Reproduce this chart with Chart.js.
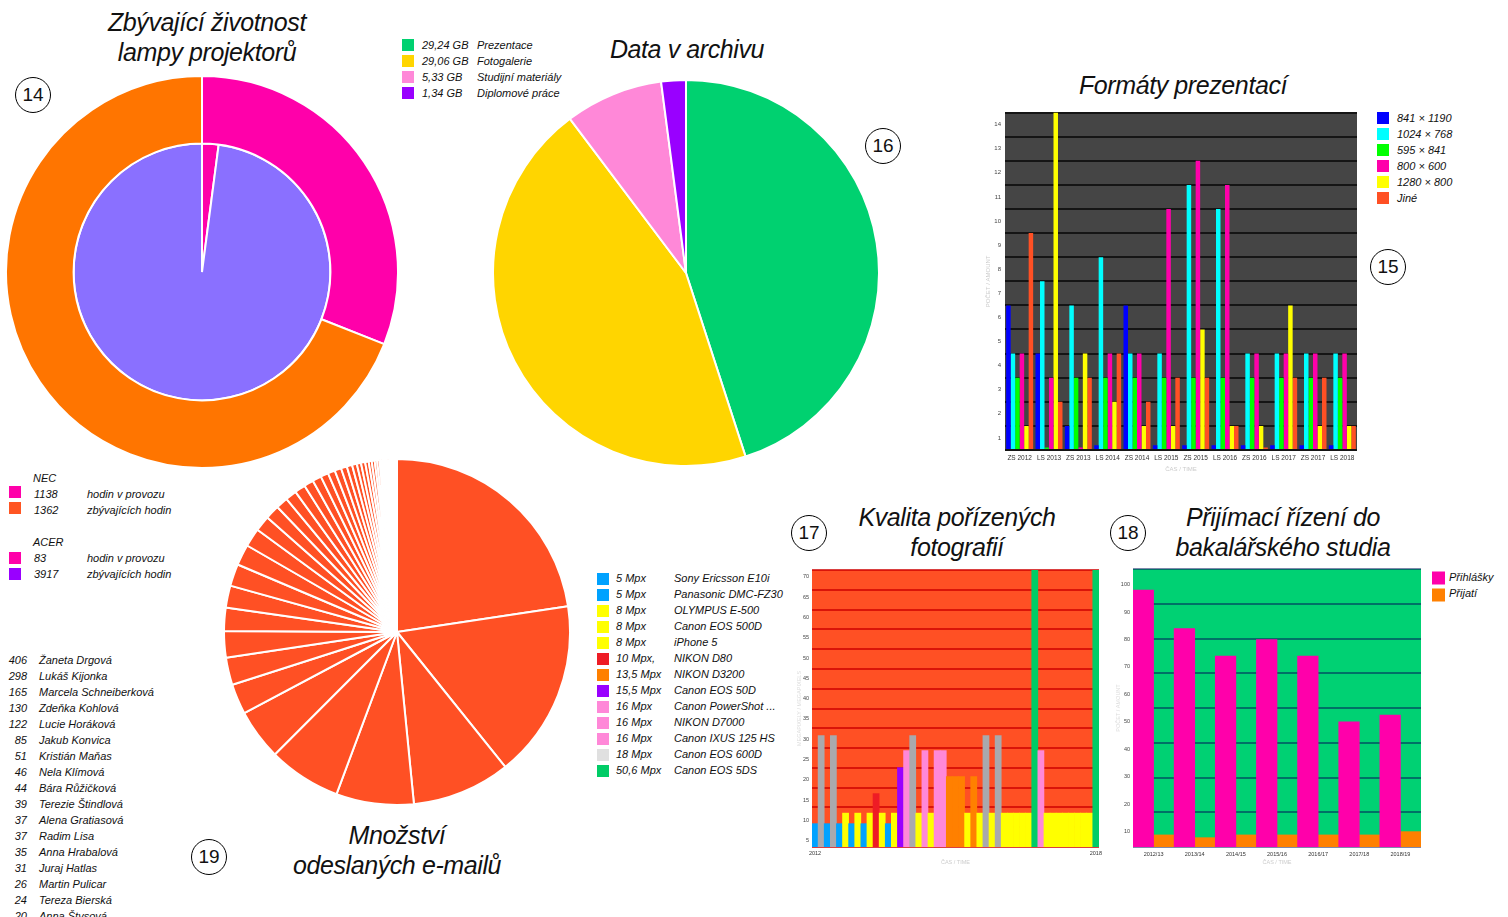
<!DOCTYPE html>
<html>
<head>
<meta charset="utf-8">
<script src="https://cdn.jsdelivr.net/npm/chart.js@4.4.1/dist/chart.umd.min.js"></script>
<style>
body { margin: 0; width: 1508px; height: 917px; overflow: hidden; background: #fff; font-family: 'Liberation Sans', Arial, sans-serif; color: #111; }
.box { position: absolute; }
.title { position: absolute; transform: translate(-50%, -50%); white-space: nowrap; font-style: italic; font-size: 25px; line-height: 30px; text-align: center; letter-spacing: -0.4px; }
.circ { position: absolute; width: 34px; height: 34px; border: 1.5px solid #000; border-radius: 50%; transform: translate(-50%, -50%); font-size: 19px; line-height: 34px; text-align: center; }
.txt { position: absolute; font-style: italic; font-size: 11px; white-space: nowrap; transform: translateY(-50%); }
.sq { position: absolute; width: 12px; height: 12px; transform: translateY(-50%); }
</style>
</head>
<body>
<div id="page"></div>
<script>
// 14 - lamp life
let necLegend = [['1138', 'hodin v provozu'], ['1362', 'zbývajících hodin']];
let acerLegend = [['83', 'hodin v provozu'], ['3917', 'zbývajících hodin']];
let necShare = [31, 69];          // outer ring, as drawn
let acerHours = [83, 3917];       // inner pie

// 16 - archive
let archiveLabels = ['Prezentace', 'Fotogalerie', 'Studijní materiály', 'Diplomové práce'];
let archiveGB = [29.24, 29.06, 5.33, 1.34];
let archiveText = ['29,24 GB', '29,06 GB', '5,33 GB', '1,34 GB'];

// 15 - presentation formats
let semesters = ['ZS 2012', 'LS 2013', 'ZS 2013', 'LS 2014', 'ZS 2014', 'LS 2015', 'ZS 2015', 'LS 2016', 'ZS 2016', 'LS 2017', 'ZS 2017', 'LS 2018'];
let formatNames = ['841 × 1190', '1024 × 768', '595 × 841', '800 × 600', '1280 × 800', 'Jiné'];
let f841x1190 = [6, 4, 1, 0.2, 6, 0.2, 0.2, 0.2, 0.2, 0.2, 0.2, 0.2];
let f1024x768 = [4, 7, 6, 8, 4, 4, 11, 10, 4, 4, 4, 4];
let f595x841 = [3, 0.1, 3, 3, 3, 3, 3, 3, 3, 3, 3, 3];
let f800x600 = [4, 3, 0.1, 4, 4, 10, 12, 11, 4, 4, 4, 4];
let f1280x800 = [1, 14, 4, 2, 1, 1, 5, 1, 1, 6, 1, 1];
let fOther = [9, 2, 3, 4, 2, 3, 3, 1, 0.1, 3, 3, 1];

// 17 - photo quality
let cameraMpx = ['5 Mpx', '5 Mpx', '8 Mpx', '8 Mpx', '8 Mpx', '10 Mpx,', '13,5 Mpx', '15,5 Mpx', '16 Mpx', '16 Mpx', '16 Mpx', '18 Mpx', '50,6 Mpx'];
let cameraNames = ['Sony Ericsson E10i', 'Panasonic DMC-FZ30', 'OLYMPUS E-500', 'Canon EOS 500D', 'iPhone 5', 'NIKON D80', 'NIKON D3200', 'Canon EOS 50D', 'Canon PowerShot ...', 'NIKON D7000', 'Canon IXUS 125 HS', 'Canon EOS 600D', 'Canon EOS 5DS'];
let photoMpx = [5, 18, 5, 18, 5, 8, 5, 8, 5, 8, 10, 8, 5, 8, 15.5, 16, 18, 8, 16, 8, 16, 16, 13.5, 13.5, 13.5, 8, 13.5, 8, 18, 8, 18, 8, 8, 8, 8, 8, 50.6, 16, 8, 8, 8, 8, 8, 8, 8, 8, 50.6];
let photoValues = [9.2, 30.9, 9.2, 30.9, 9.2, 11.8, 9.2, 11.8, 9.2, 11.8, 16.6, 11.8, 9.2, 11.8, 23, 27.2, 30.9, 11.8, 27.2, 11.8, 27.2, 27.2, 20.8, 20.8, 20.8, 11.8, 20.8, 11.8, 30.9, 11.8, 30.9, 11.8, 11.8, 11.8, 11.8, 11.8, 71.7, 27.2, 11.8, 11.8, 11.8, 11.8, 11.8, 11.8, 11.8, 11.8, 71.7];
let photoTicks = [5, 10, 15, 20, 25, 30, 35, 40, 45, 50, 55, 60, 65, 70];

// 18 - admissions
let years = ['2012/13', '2013/14', '2014/15', '2015/16', '2016/17', '2017/18', '2018/19'];
let applications = [98, 84, 74, 80, 74, 50, 52.5];
let admitted = [8.8, 7.8, 8.8, 8.8, 8.8, 8.8, 10];
let admissionTicks = [10, 20, 30, 40, 50, 60, 70, 80, 90, 100];

// 19 - e-mails
let senderNames = ['Žaneta Drgová', 'Lukáš Kijonka', 'Marcela Schneiberková', 'Zdeňka Kohlová', 'Lucie Horáková', 'Jakub Konvica', 'Kristián Maňas', 'Nela Klímová', 'Bára Růžičková', 'Terezie Štindlová', 'Alena Gratiasová', 'Radim Lisa', 'Anna Hrabalová', 'Juraj Hatlas', 'Martin Pulicar', 'Tereza Bierská', 'Anna Štvsová'];
let sentMails = [406, 298, 165, 130, 122, 85, 51, 46, 44, 39, 37, 37, 35, 31, 26, 24, 20];
let sentMailsRest = [19, 18, 16, 15, 13, 12, 11, 10, 9, 8, 7, 7, 6, 5, 5, 4, 4, 3, 3, 3, 2, 2, 2, 2, 2, 1, 1, 1, 1, 1, 1, 1, 1, 1, 1];

let C = {
    magenta: '#FF00AA', orange: '#FF7500', red: '#FF5024', lilac: '#8A70FF', purple: '#9900FF',
    green: '#00D170', gold: '#FFD500', pink: '#FF88D8',
    fBlue: '#0000FF', fCyan: '#00FFFF', fGreen: '#00FF00', fYellow: '#FFFF00',
    amber: '#FF8000'
};
let mpxColors = {5: '#00A2FF', 8: '#FFFF00', 10: '#EE1C25', 13.5: '#FF8000', 15.5: '#9900FF', 16: '#FF88D8', 18: '#A9A9AD', 50.6: '#00CC66'};
let mpxLegendColors = ['#00A2FF', '#00A2FF', '#FFFF00', '#FFFF00', '#FFFF00', '#EE1C25', '#FF8000', '#9900FF', '#FF88D8', '#FF88D8', '#FF88D8', '#E0E0E0', '#00CC66'];

Chart.defaults.font.family = "'Liberation Sans', Arial, sans-serif";
Chart.defaults.animation = false;
Chart.defaults.plugins.legend.display = false;
Chart.defaults.plugins.tooltip.enabled = false;

let page = document.getElementById('page');

function add(html) {
    page.insertAdjacentHTML('beforeend', html);
}
function title(x, y, text) {
    add(`<div class="title" style="left:${x}px;top:${y}px">${text}</div>`);
}
function circ(x, y, n) {
    add(`<div class="circ" style="left:${x}px;top:${y}px">${n}</div>`);
}
function txt(x, y, s, extra) {
    add(`<div class="txt" style="left:${x}px;top:${y}px;${extra || ''}">${s}</div>`);
}
function sq(x, y, color, size) {
    size = size || 12;
    add(`<div class="sq" style="left:${x}px;top:${y}px;width:${size}px;height:${size}px;background:${color}"></div>`);
}
function canvas(id, x, y, w, h) {
    add(`<div class="box" style="left:${x}px;top:${y}px;width:${w}px;height:${h}px"><canvas id="${id}" width="${w}" height="${h}"></canvas></div>`);
    return document.getElementById(id).getContext('2d');
}

let areaBg = {
    id: 'areaBg',
    beforeDraw(chart, args, opts) {
        let a = chart.chartArea;
        let ctx = chart.ctx;
        ctx.save();
        ctx.fillStyle = opts.color;
        ctx.fillRect(a.left, a.top, a.width, a.height);
        ctx.restore();
    }
};

// ---- texts
title(207, 37, 'Zbývající životnost<br>lampy projektorů');
title(687, 49, 'Data v archivu');
title(1183, 85, 'Formáty prezentací');
title(957, 532, 'Kvalita pořízených<br>fotografií');
title(1283, 532, 'Přijímací řízení do<br>bakalářského studia');
title(397, 850, 'Množství<br>odeslaných e-mailů');

circ(33, 95, 14);
circ(883, 146, 16);
circ(1388, 267, 15);
circ(809, 533, 17);
circ(1128, 533, 18);
circ(209, 857, 19);

// lamp legend
txt(33, 478, 'NEC');
let necColors = [C.magenta, '#FF5522'];
necLegend.forEach((r, i) => {
    sq(9, 492 + i * 16, necColors[i]);
    txt(34, 494 + i * 16, r[0]);
    txt(87, 494 + i * 16, r[1]);
});
txt(33, 542, 'ACER');
let acerColors = [C.magenta, C.purple];
acerLegend.forEach((r, i) => {
    sq(9, 558 + i * 16, acerColors[i]);
    txt(34, 558 + i * 16, r[0]);
    txt(87, 558 + i * 16, r[1]);
});

// archive legend
let archiveColors = [C.green, C.gold, C.pink, C.purple];
archiveLabels.forEach((l, i) => {
    sq(402, 45 + i * 16, archiveColors[i]);
    txt(422, 45 + i * 16, archiveText[i]);
    txt(477, 45 + i * 16, l);
});

// formats legend
let formatColors = [C.fBlue, C.fCyan, C.fGreen, C.magenta, C.fYellow, C.red];
formatNames.forEach((l, i) => {
    sq(1377, 118 + i * 16, formatColors[i]);
    txt(1397, 118 + i * 16, l);
});

// cameras legend
cameraNames.forEach((l, i) => {
    sq(597, 579 + i * 16, mpxLegendColors[i]);
    txt(616, 578 + i * 16, cameraMpx[i]);
    txt(674, 578 + i * 16, l);
});

// admissions legend
sq(1432, 578, C.magenta, 13);
txt(1449, 577, 'Přihlášky');
sq(1432, 595, C.amber, 13);
txt(1449, 593, 'Přijatí');

// senders list
senderNames.forEach((n, i) => {
    txt(0, 660 + i * 16, sentMails[i], 'width:27px;text-align:right');
    txt(39, 660 + i * 16, n);
});

// ---- 14 lamp life
new Chart(canvas('lampChart', 5, 75, 394, 394), {
    type: 'doughnut',
    data: {
        labels: ['hodin v provozu', 'zbývajících hodin'],
        datasets: [
            { data: necShare, backgroundColor: [C.magenta, C.orange], borderColor: '#fff', borderWidth: 2, weight: 1, hoverOffset: 0 },
            { data: acerHours, backgroundColor: [C.magenta, C.lilac], borderColor: '#fff', borderWidth: 2, weight: 1.9, hoverOffset: 0 }
        ]
    },
    options: { responsive: false, cutout: 0 }
});

// ---- 16 archive
new Chart(canvas('archiveChart', 492, 79, 388, 388), {
    type: 'pie',
    data: {
        labels: archiveLabels,
        datasets: [{ data: archiveGB, backgroundColor: archiveColors, borderColor: '#fff', borderWidth: 2, hoverOffset: 0 }]
    },
    options: { responsive: false }
});

// ---- 19 e-mails
new Chart(canvas('mailChart', 223, 458, 348, 348), {
    type: 'pie',
    data: {
        labels: senderNames.concat(sentMailsRest.map(() => '')),
        datasets: [{ data: sentMails.concat(sentMailsRest), backgroundColor: C.red, borderColor: '#fff', borderWidth: 2, hoverOffset: 0 }]
    },
    options: { responsive: false }
});

// ---- 15 formats
let formatSeries = [f841x1190, f1024x768, f595x841, f800x600, f1280x800, fOther];
new Chart(canvas('formatChart', 975, 105, 385, 372), {
    type: 'bar',
    data: {
        labels: semesters,
        datasets: formatSeries.map((d, i) => ({
            label: formatNames[i], data: d, backgroundColor: formatColors[i],
            barPercentage: 1, categoryPercentage: 0.92
        }))
    },
    options: {
        responsive: false,
        layout: { padding: { top: 7, right: 3, left: 6, bottom: 0 } },
        plugins: { areaBg: { color: '#454545' } },
        scales: {
            x: {
                grid: { display: false, drawTicks: false },
                border: { display: false },
                ticks: { font: { size: 6.5 }, color: '#333', maxRotation: 0, autoSkip: false, padding: 4 },
                title: { display: true, text: 'ČAS / TIME', font: { size: 6 }, color: '#ccc' },
                afterFit: s => { s.height = 27; }
            },
            y: {
                min: 0, max: 14, z: 1,
                grid: { color: '#151515', lineWidth: 2, drawTicks: false },
                border: { display: false },
                ticks: { stepSize: 1, font: { size: 6 }, color: '#444', labelOffset: 12, padding: 4,
                         callback: v => v === 0 ? '' : v },
                title: { display: true, text: 'POČET / AMOUNT', font: { size: 6 }, color: '#ccc' },
                afterFit: s => { s.width = 24; }
            }
        }
    },
    plugins: [areaBg]
});

// ---- 17 photo quality
let photoLabels = photoValues.map((v, i) => i === 0 ? '2012' : (i === photoValues.length - 1 ? '2018' : ''));
new Chart(canvas('photoChart', 780, 560, 325, 310), {
    type: 'bar',
    data: {
        labels: photoLabels,
        datasets: [{ data: photoValues, backgroundColor: photoMpx.map(m => mpxColors[m]), barPercentage: 1, categoryPercentage: 1 }]
    },
    options: {
        responsive: false,
        layout: { padding: { top: 10, right: 5, left: 12, bottom: 0 } },
        plugins: { areaBg: { color: '#FF5024' } },
        scales: {
            x: {
                grid: { display: false, drawTicks: false },
                border: { display: false },
                ticks: { font: { size: 5.5 }, color: '#333', maxRotation: 0, autoSkip: false, padding: 3 },
                title: { display: true, text: 'ČAS / TIME', font: { size: 5.5 }, color: '#ccc' },
                afterFit: s => { s.height = 23; }
            },
            y: {
                min: 3.45, max: 71.7,
                afterBuildTicks: s => { s.ticks = photoTicks.map(v => ({ value: v })); },
                grid: { display: false, drawTicks: false },
                border: { display: false },
                ticks: { font: { size: 5.5 }, color: '#444', padding: 3 },
                title: { display: true, text: 'MEGAPIXELY / MEGAPIXELS', font: { size: 5.5 }, color: '#ddd' },
                afterFit: s => { s.width = 20; }
            },
            y2: {
                position: 'right', min: 0, max: 14, z: 1,
                grid: { color: 'rgba(205,0,0,0.75)', lineWidth: 2, drawTicks: false },
                border: { display: false },
                ticks: { display: false, stepSize: 1 },
                afterFit: s => { s.width = 0; }
            }
        }
    },
    plugins: [areaBg]
});

// ---- 18 admissions
new Chart(canvas('admissionChart', 1105, 560, 320, 310), {
    type: 'bar',
    data: {
        labels: years,
        datasets: [
            { label: 'Přihlášky', data: applications, backgroundColor: C.magenta, barPercentage: 1, categoryPercentage: 1 },
            { label: 'Přijatí', data: admitted, backgroundColor: C.amber, barPercentage: 1, categoryPercentage: 1 }
        ]
    },
    options: {
        responsive: false,
        layout: { padding: { top: 9, right: 4, left: 6, bottom: 0 } },
        plugins: { areaBg: { color: '#00D173' } },
        scales: {
            x: {
                grid: { display: false, drawTicks: false },
                border: { display: false },
                ticks: { font: { size: 5.5 }, color: '#333', maxRotation: 0, autoSkip: false, padding: 4 },
                title: { display: true, text: 'ČAS / TIME', font: { size: 5.5 }, color: '#ccc' },
                afterFit: s => { s.height = 23; }
            },
            y: {
                min: 4.4, max: 105.7,
                afterBuildTicks: s => { s.ticks = admissionTicks.map(v => ({ value: v })); },
                grid: { display: false, drawTicks: false },
                border: { display: false },
                ticks: { font: { size: 5.5 }, color: '#444', padding: 3 },
                title: { display: true, text: 'POČET / AMOUNT', font: { size: 5.5 }, color: '#ddd' },
                afterFit: s => { s.width = 22; }
            },
            y2: {
                position: 'right', min: 0, max: 8, z: 1,
                grid: { color: 'rgba(0,20,90,0.5)', lineWidth: 2, drawTicks: false },
                border: { display: false },
                ticks: { display: false, stepSize: 1 },
                afterFit: s => { s.width = 0; }
            }
        }
    },
    plugins: [areaBg]
});
</script>
</body>
</html>
